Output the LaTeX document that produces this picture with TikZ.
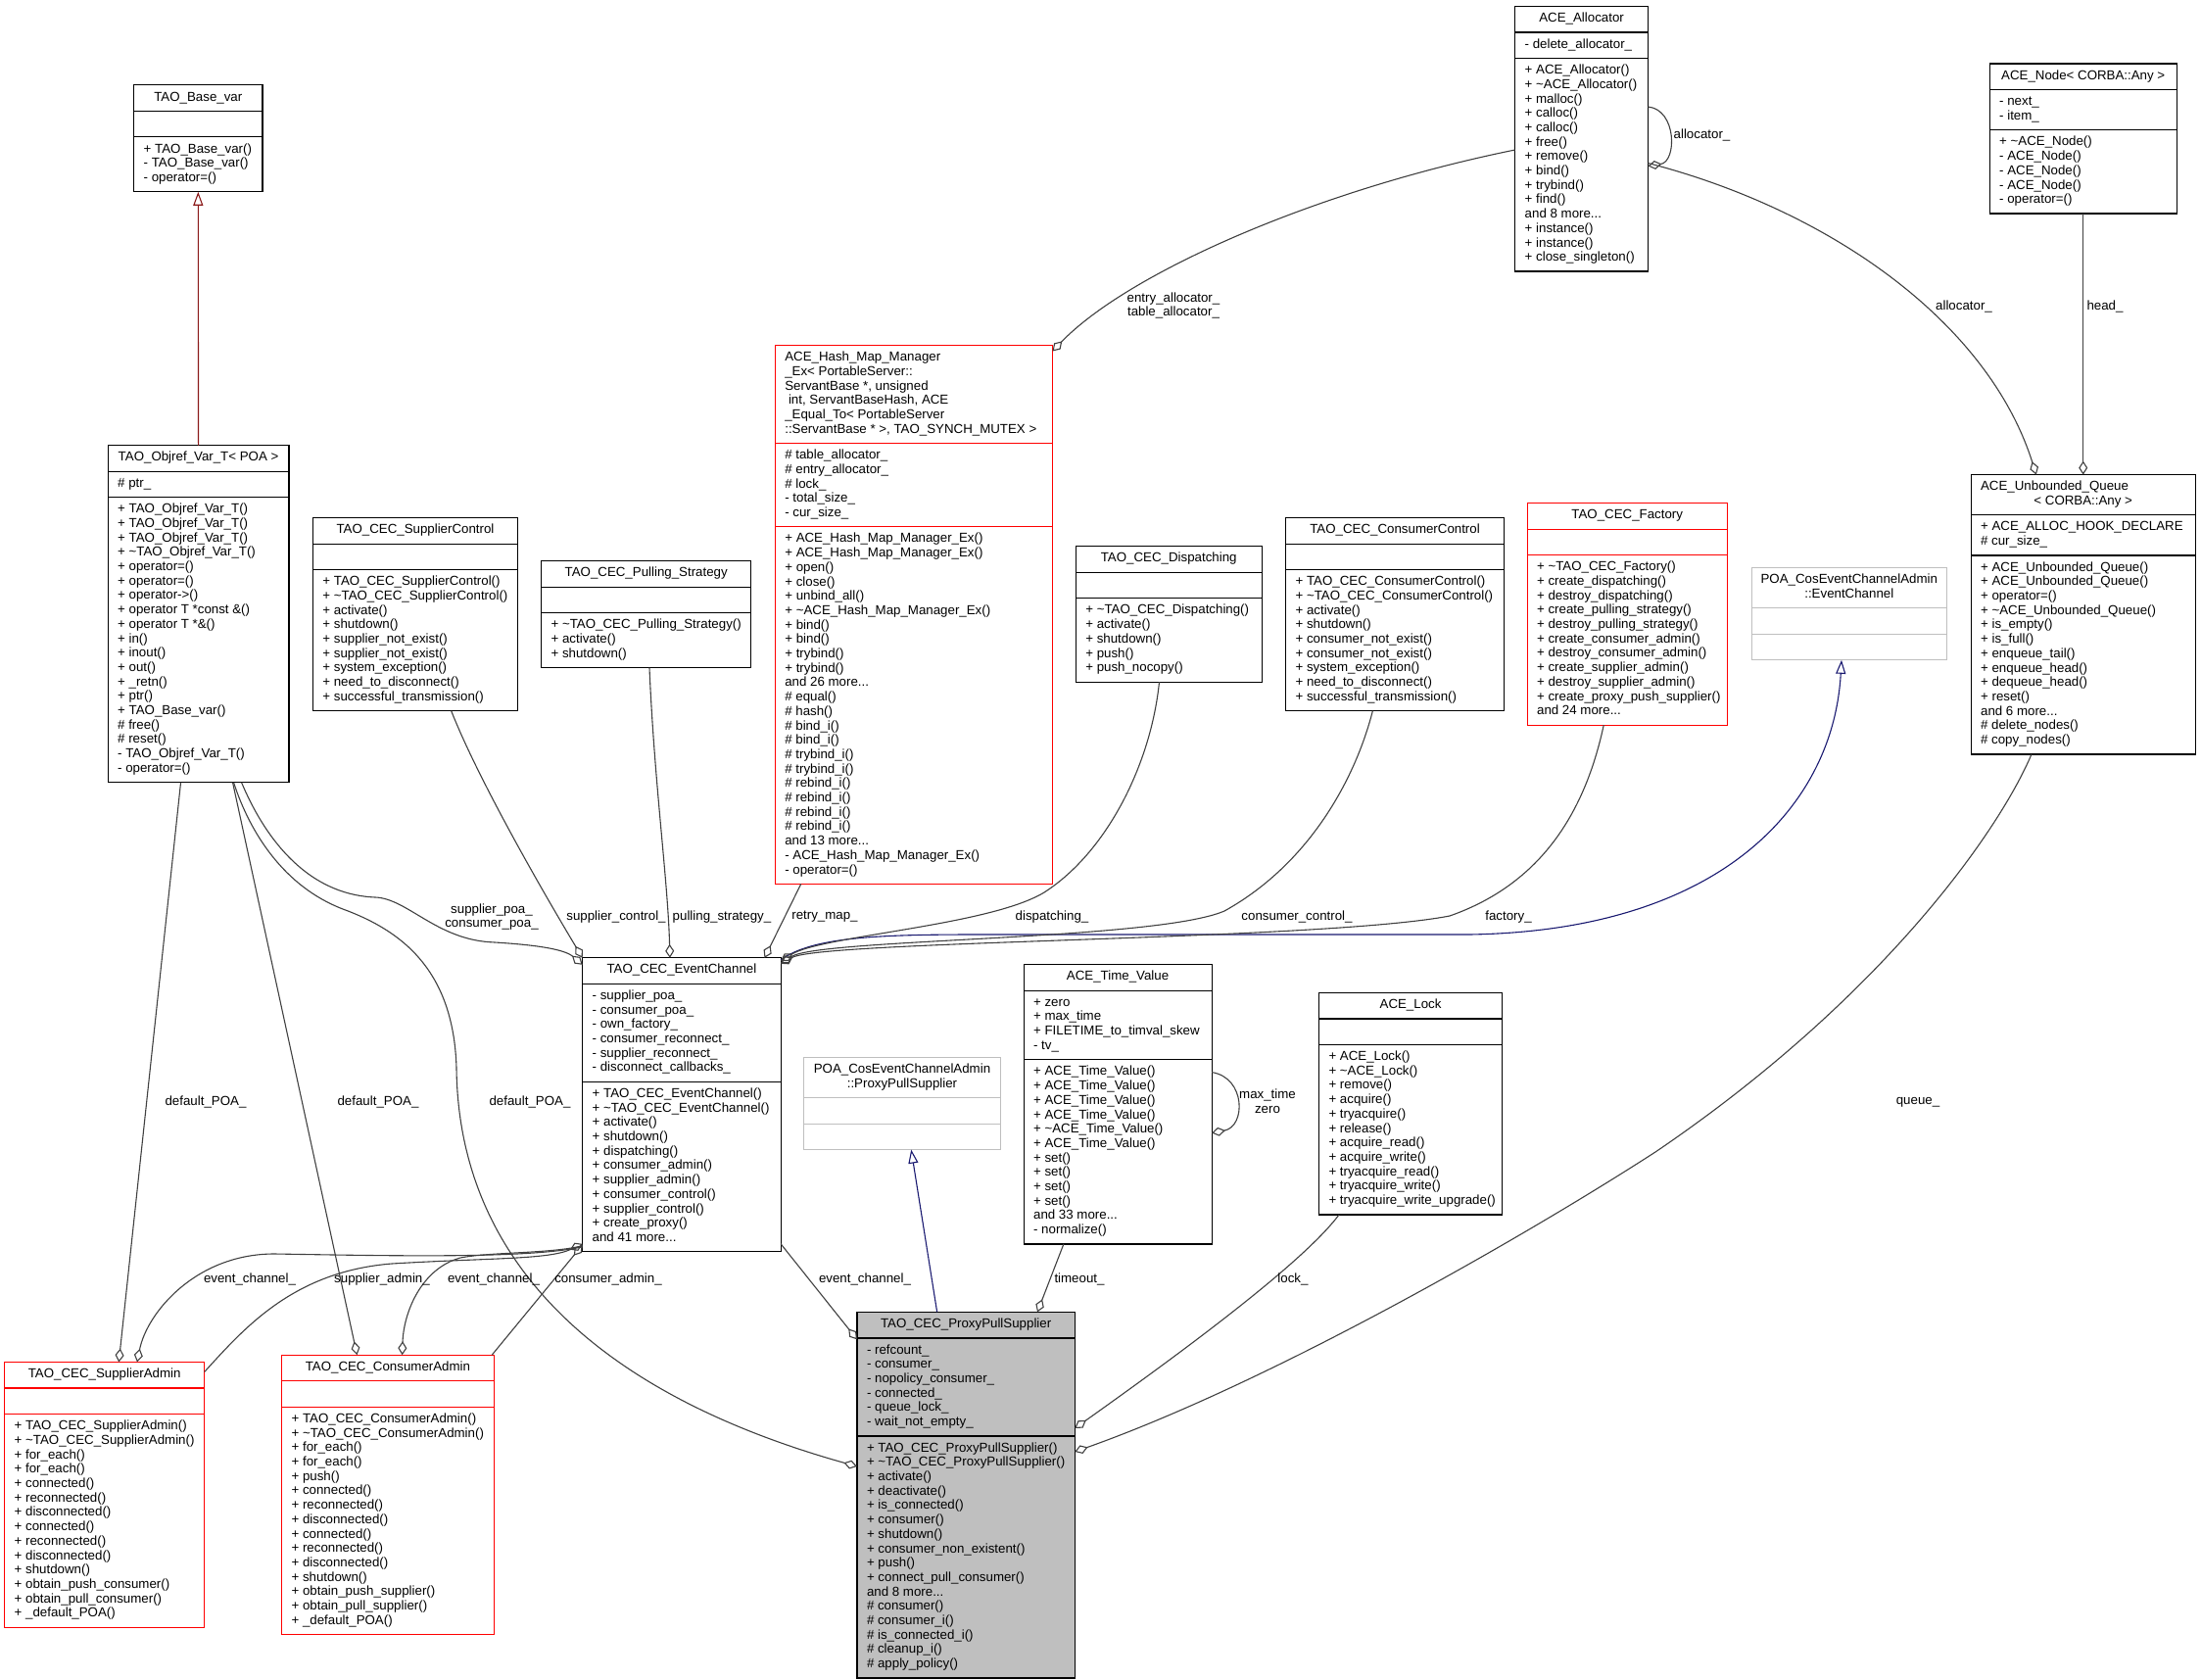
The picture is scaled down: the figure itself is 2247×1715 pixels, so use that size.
\documentclass[tikz,border=0pt]{standalone}
\usepackage{fontspec}
\setmainfont{Liberation Sans}
\usetikzlibrary{arrows.meta,shapes.multipart}

\definecolor{edgegrey}{HTML}{404040}
\definecolor{inhblue}{HTML}{191970}
\definecolor{privred}{HTML}{8B1A1A}
\definecolor{grey75}{HTML}{BFBFBF}

\newcommand\boxw{100pt}
\newcommand\mtitle[1]{\makebox[\boxw][c]{\begin{tabular}{@{}c@{}}#1\end{tabular}}}
\newcommand\mlist[1]{\makebox[\boxw][l]{\begin{tabular}{@{}l@{}}\strut#1\end{tabular}}}
\newcommand\tld{\textasciitilde}

\tikzset{
  cls/.style={draw=black, line width=1.2pt, rectangle split, rectangle split parts=3,
    inner xsep=10pt, inner ysep=5.3pt, outer sep=0pt, anchor=north west,
    font=\fontsize{13.3}{14.7}\selectfont},
  redcls/.style={cls, draw=red},
  poacls/.style={cls, draw=grey75},
  maincls/.style={cls, fill=grey75},
  boxw/.code={\def\boxw{#1}},
  mem/.style={draw=edgegrey, line width=1.1pt, -{Diamond[open,length=14pt,width=9pt]}},
  pubinh/.style={draw=inhblue, line width=1.1pt, -{Triangle[open,length=14pt,width=10pt]}},
  privinh/.style={draw=privred, line width=1.1pt, -{Triangle[open,length=14pt,width=10pt]}},
  lbl/.style={inner sep=0pt, align=center, font=\fontsize{13.3}{14.7}\selectfont}
}

\begin{document}
\begin{tikzpicture}[x=1pt,y=-1pt]
\useasboundingbox (0,0) rectangle (2247,1715);

%clases de arriba a la izquierda
\node[cls, boxw=111.2pt] (basevar) at (136.7,86.9) {\mtitle{TAO\_Base\_var}\nodepart{second}\mlist{}\nodepart{third}\mlist{+ TAO\_Base\_var()\\- TAO\_Base\_var()\\- operator=()}};
\node[cls, boxw=164.7pt] (objref) at (110.2,454.6) {\mtitle{TAO\_Objref\_Var\_T< POA >}\nodepart{second}\mlist{\# ptr\_}\nodepart{third}\mlist{+ TAO\_Objref\_Var\_T()\\+ TAO\_Objref\_Var\_T()\\+ TAO\_Objref\_Var\_T()\\+ \tld TAO\_Objref\_Var\_T()\\+ operator=()\\+ operator=()\\+ operator->()\\+ operator T *const \&()\\+ operator T *\&()\\+ in()\\+ inout()\\+ out()\\+ \_retn()\\+ ptr()\\+ TAO\_Base\_var()\\\# free()\\\# reset()\\- TAO\_Objref\_Var\_T()\\- operator=()}};
\node[cls, boxw=189.2pt] (supctl) at (319.4,528.6) {\mtitle{TAO\_CEC\_SupplierControl}\nodepart{second}\mlist{}\nodepart{third}\mlist{+ TAO\_CEC\_SupplierControl()\\+ \tld TAO\_CEC\_SupplierControl()\\+ activate()\\+ shutdown()\\+ supplier\_not\_exist()\\+ supplier\_not\_exist()\\+ system\_exception()\\+ need\_to\_disconnect()\\+ successful\_transmission()}};
\node[cls, boxw=194.2pt] (pullstr) at (552.6,572.8) {\mtitle{TAO\_CEC\_Pulling\_Strategy}\nodepart{second}\mlist{}\nodepart{third}\mlist{+ \tld TAO\_CEC\_Pulling\_Strategy()\\+ activate()\\+ shutdown()}};

%clases de arriba en el centro
\node[redcls, boxw=263.2pt] (hashmap) at (791.3,352.5) {\mlist{ACE\_Hash\_Map\_Manager\\\_Ex< PortableServer::\\ServantBase *, unsigned\\\ int, ServantBaseHash, ACE\\\_Equal\_To< PortableServer\\::ServantBase * >, TAO\_SYNCH\_MUTEX >}\nodepart{second}\mlist{\# table\_allocator\_\\\# entry\_allocator\_\\\# lock\_\\- total\_size\_\\- cur\_size\_}\nodepart{third}\mlist{+ ACE\_Hash\_Map\_Manager\_Ex()\\+ ACE\_Hash\_Map\_Manager\_Ex()\\+ open()\\+ close()\\+ unbind\_all()\\+ \tld ACE\_Hash\_Map\_Manager\_Ex()\\+ bind()\\+ bind()\\+ trybind()\\+ trybind()\\and 26 more...\\\# equal()\\\# hash()\\\# bind\_i()\\\# bind\_i()\\\# trybind\_i()\\\# trybind\_i()\\\# rebind\_i()\\\# rebind\_i()\\\# rebind\_i()\\\# rebind\_i()\\and 13 more...\\- ACE\_Hash\_Map\_Manager\_Ex()\\- operator=()}};
\node[cls, boxw=169.8pt] (disp) at (1098.3,557.8) {\mtitle{TAO\_CEC\_Dispatching}\nodepart{second}\mlist{}\nodepart{third}\mlist{+ \tld TAO\_CEC\_Dispatching()\\+ activate()\\+ shutdown()\\+ push()\\+ push\_nocopy()}};
\node[cls, boxw=202.9pt] (conctl) at (1312.6,528.6) {\mtitle{TAO\_CEC\_ConsumerControl}\nodepart{second}\mlist{}\nodepart{third}\mlist{+ TAO\_CEC\_ConsumerControl()\\+ \tld TAO\_CEC\_ConsumerControl()\\+ activate()\\+ shutdown()\\+ consumer\_not\_exist()\\+ consumer\_not\_exist()\\+ system\_exception()\\+ need\_to\_disconnect()\\+ successful\_transmission()}};
\node[redcls, boxw=184.3pt] (factory) at (1559.1,513.6) {\mtitle{TAO\_CEC\_Factory}\nodepart{second}\mlist{}\nodepart{third}\mlist{+ \tld TAO\_CEC\_Factory()\\+ create\_dispatching()\\+ destroy\_dispatching()\\+ create\_pulling\_strategy()\\+ destroy\_pulling\_strategy()\\+ create\_consumer\_admin()\\+ destroy\_consumer\_admin()\\+ create\_supplier\_admin()\\+ destroy\_supplier\_admin()\\+ create\_proxy\_push\_supplier()\\and 24 more...}};
\node[poacls, boxw=179.2pt] (poaec) at (1788.2,579.6) {\mtitle{POA\_CosEventChannelAdmin\\::EventChannel}\nodepart{second}\mlist{}\nodepart{third}\mlist{}};

%clases de arriba a la derecha
\node[cls, boxw=115.8pt] (alloc) at (1546.7,6.5) {\mtitle{ACE\_Allocator}\nodepart{second}\mlist{- delete\_allocator\_}\nodepart{third}\mlist{+ ACE\_Allocator()\\+ \tld ACE\_Allocator()\\+ malloc()\\+ calloc()\\+ calloc()\\+ free()\\+ remove()\\+ bind()\\+ trybind()\\+ find()\\and 8 more...\\+ instance()\\+ instance()\\+ close\_singleton()}};
\node[cls, boxw=171pt] (acenode) at (2031.2,65.1) {\mtitle{ACE\_Node< CORBA::Any >}\nodepart{second}\mlist{- next\_\\- item\_}\nodepart{third}\mlist{+ \tld ACE\_Node()\\- ACE\_Node()\\- ACE\_Node()\\- ACE\_Node()\\- operator=()}};
\node[cls, boxw=209.2pt] (queue) at (2012.1,484.6) {\mtitle{\makebox[\boxw][l]{ACE\_Unbounded\_Queue}\\< CORBA::Any >}\nodepart{second}\mlist{+ ACE\_ALLOC\_HOOK\_DECLARE\\\# cur\_size\_}\nodepart{third}\mlist{+ ACE\_Unbounded\_Queue()\\+ ACE\_Unbounded\_Queue()\\+ operator=()\\+ \tld ACE\_Unbounded\_Queue()\\+ is\_empty()\\+ is\_full()\\+ enqueue\_tail()\\+ enqueue\_head()\\+ dequeue\_head()\\+ reset()\\and 6 more...\\\# delete\_nodes()\\\# copy\_nodes()}};

%clases de abajo
\node[cls, boxw=182.4pt] (ec) at (594.7,977.8) {\mtitle{TAO\_CEC\_EventChannel}\nodepart{second}\mlist{- supplier\_poa\_\\- consumer\_poa\_\\- own\_factory\_\\- consumer\_reconnect\_\\- supplier\_reconnect\_\\- disconnect\_callbacks\_}\nodepart{third}\mlist{+ TAO\_CEC\_EventChannel()\\+ \tld TAO\_CEC\_EventChannel()\\+ activate()\\+ shutdown()\\+ dispatching()\\+ consumer\_admin()\\+ supplier\_admin()\\+ consumer\_control()\\+ supplier\_control()\\+ create\_proxy()\\and 41 more...}};
\node[redcls, boxw=184pt] (supadm) at (4.7,1390.5) {\mtitle{TAO\_CEC\_SupplierAdmin}\nodepart{second}\mlist{}\nodepart{third}\mlist{+ TAO\_CEC\_SupplierAdmin()\\+ \tld TAO\_CEC\_SupplierAdmin()\\+ for\_each()\\+ for\_each()\\+ connected()\\+ reconnected()\\+ disconnected()\\+ connected()\\+ reconnected()\\+ disconnected()\\+ shutdown()\\+ obtain\_push\_consumer()\\+ obtain\_pull\_consumer()\\+ \_default\_POA()}};
\node[redcls, boxw=196.6pt] (conadm) at (287.6,1383.2) {\mtitle{TAO\_CEC\_ConsumerAdmin}\nodepart{second}\mlist{}\nodepart{third}\mlist{+ TAO\_CEC\_ConsumerAdmin()\\+ \tld TAO\_CEC\_ConsumerAdmin()\\+ for\_each()\\+ for\_each()\\+ push()\\+ connected()\\+ reconnected()\\+ disconnected()\\+ connected()\\+ reconnected()\\+ disconnected()\\+ shutdown()\\+ obtain\_push\_supplier()\\+ obtain\_pull\_supplier()\\+ \_default\_POA()}};
\node[poacls, boxw=180.4pt] (poapps) at (820.8,1079.4) {\mtitle{POA\_CosEventChannelAdmin\\::ProxyPullSupplier}\nodepart{second}\mlist{}\nodepart{third}\mlist{}};
\node[cls, boxw=172pt] (timeval) at (1045.1,984.6) {\mtitle{ACE\_Time\_Value}\nodepart{second}\mlist{+ zero\\+ max\_time\\+ FILETIME\_to\_timval\_skew\\- tv\_}\nodepart{third}\mlist{+ ACE\_Time\_Value()\\+ ACE\_Time\_Value()\\+ ACE\_Time\_Value()\\+ ACE\_Time\_Value()\\+ \tld ACE\_Time\_Value()\\+ ACE\_Time\_Value()\\+ set()\\+ set()\\+ set()\\+ set()\\and 33 more...\\- normalize()}};
\node[cls, boxw=167.1pt] (acelock) at (1346.5,1013.4) {\mtitle{ACE\_Lock}\nodepart{second}\mlist{}\nodepart{third}\mlist{+ ACE\_Lock()\\+ \tld ACE\_Lock()\\+ remove()\\+ acquire()\\+ tryacquire()\\+ release()\\+ acquire\_read()\\+ acquire\_write()\\+ tryacquire\_read()\\+ tryacquire\_write()\\+ tryacquire\_write\_upgrade()}};
\node[maincls, boxw=202.3pt] (pps) at (875,1339.4) {\mtitle{TAO\_CEC\_ProxyPullSupplier}\nodepart{second}\mlist{- refcount\_\\- consumer\_\\- nopolicy\_consumer\_\\- connected\_\\- queue\_lock\_\\- wait\_not\_empty\_}\nodepart{third}\mlist{+ TAO\_CEC\_ProxyPullSupplier()\\+ \tld TAO\_CEC\_ProxyPullSupplier()\\+ activate()\\+ deactivate()\\+ is\_connected()\\+ consumer()\\+ shutdown()\\+ consumer\_non\_existent()\\+ push()\\+ connect\_pull\_consumer()\\and 8 more...\\\# consumer()\\\# consumer\_i()\\\# is\_connected\_i()\\\# cleanup\_i()\\\# apply\_policy()}};

%herencia
\draw[privinh] (objref.north) -- (basevar.south);
\draw[pubinh] ([yshift=-2pt]ec.north east) .. controls (830,956) and (900,954) .. (1000,954) -- (1500,954) .. controls (1760,950) and (1872,820) .. ([xshift=-7.8pt]poaec.south);
\draw[pubinh] ([xshift=-29.5pt]pps.north) -- ([xshift=9.2pt]poapps.south);

%miembros hacia TAO_CEC_EventChannel
\draw[mem] ([xshift=44pt]objref.south) .. controls (268,850) and (310,913) .. (383,916) .. controls (415,917) and (445,958) .. (500,961.7) .. controls (540,964) and (575,968) .. ([yshift=-7pt]ec.north west);
\draw[mem] ([xshift=36.7pt]supctl.south) .. controls (490,800) and (560,920) .. (ec.north west);
\draw[mem] ([xshift=3.3pt]pullstr.south) .. controls (668,800) and (682,900) .. ([xshift=-12pt]ec.north);
\draw[mem] ([xshift=-115.2pt]hashmap.south) -- ([xshift=-16.6pt]ec.north east);
\draw[mem] ([xshift=-9.7pt]disp.south) .. controls (1175,780) and (1130,870) .. (1066,911) .. controls (1010,945) and (840,955) .. ([yshift=-3pt]ec.north east);
\draw[mem] ([xshift=-22.7pt]conctl.south) .. controls (1385,790) and (1340,880) .. (1250,930) .. controls (1180,960) and (840,958) .. ([yshift=-5pt]ec.north east);
\draw[mem] ([xshift=-24pt]factory.south) .. controls (1620,820) and (1580,900) .. (1480,935) .. controls (1350,960) and (840,960) .. ([yshift=-6pt]ec.north east);
\draw[mem] ([yshift=-10pt]supadm.north east) .. controls (250,1355) and (300,1298) .. (400,1290) .. controls (500,1284) and (560,1286) .. ([yshift=8pt]ec.south west);
\draw[mem] ([xshift=-2pt]conadm.north east) -- ([yshift=7pt]ec.south west);

%miembros default_POA_
\draw[mem] ([xshift=-18pt]objref.south) -- ([xshift=14.6pt]supadm.north);
\draw[mem] ([xshift=35pt]objref.south) -- ([xshift=-31.4pt]conadm.north);
\draw[mem] ([xshift=36pt]objref.south) .. controls (255,850) and (290,905) .. (350,928) .. controls (410,950) and (463,990) .. (466,1090) .. controls (468,1280) and (600,1420) .. ([yshift=-157.6pt]pps.north west);

%miembros event_channel_
\draw[mem] ([yshift=5pt]ec.south west) .. controls (540,1285) and (400,1282) .. (280,1280) .. controls (200,1280) and (150,1340) .. ([xshift=33.3pt]supadm.north);
\draw[mem] ([yshift=6pt]ec.south west) .. controls (560,1280) and (500,1278) .. (470,1284) .. controls (430,1295) and (412,1340) .. ([xshift=14.7pt]conadm.north);
\draw[mem] ([yshift=8pt]ec.south east) -- ([yshift=-28pt]pps.north west);

%miembros hacia TAO_CEC_ProxyPullSupplier
\draw[mem] ([xshift=-55.2pt]timeval.south) -- ([xshift=72.9pt]pps.north);
\draw[mem] ([xshift=-73pt]acelock.south) .. controls (1330,1290) and (1200,1385) .. ([yshift=-118.6pt]pps.north east);
\draw[mem] ([xshift=-52.7pt]queue.south) .. controls (2040,850) and (1920,1020) .. (1690,1176) .. controls (1560,1260) and (1300,1410) .. ([yshift=-142.6pt]pps.north east);

%miembros de las clases ACE
\draw[mem] ([yshift=-110pt]timeval.north east) .. controls (1272,1100) and (1272,1150) .. ([yshift=-172pt]timeval.north east);
\draw[mem] ([yshift=-102.5pt]alloc.north east) .. controls (1712,112) and (1712,165) .. ([yshift=-163pt]alloc.north east);
\draw[mem] ([yshift=-146.5pt]alloc.north west) .. controls (1340,195) and (1150,280) .. ([yshift=-6pt]hashmap.north east);
\draw[mem] ([yshift=-160pt]alloc.north east) .. controls (1870,215) and (2030,330) .. ([xshift=-47.9pt]queue.north);
\draw[mem] (acenode.south) -- (queue.north);

%etiquetas de los miembros
\node[lbl] (lpoa) at (502,936) {supplier\_poa\_\\consumer\_poa\_};
\node[lbl] (lsupctl) at (629,936) {supplier\_control\_};
\node[lbl] (lpull) at (737,936) {pulling\_strategy\_};
\node[lbl] (lretry) at (842,936) {retry\_map\_};
\node[lbl] (ldisp) at (1074,936) {dispatching\_};
\node[lbl] (lconctl) at (1324,936) {consumer\_control\_};
\node[lbl] (lfact) at (1540,936) {factory\_};
\node[lbl] (ldefsa) at (210,1125) {default\_POA\_};
\node[lbl] (ldefca) at (386,1125) {default\_POA\_};
\node[lbl] (ldefpps) at (541,1125) {default\_POA\_};
\node[lbl] (lecsa) at (255,1306) {event\_channel\_};
\node[lbl] (lsupadm) at (390,1306) {supplier\_admin\_};
\node[lbl] (lecca) at (504,1306) {event\_channel\_};
\node[lbl] (lconadm) at (621,1306) {consumer\_admin\_};
\node[lbl] (lecpps) at (883,1306) {event\_channel\_};
\node[lbl] (ltimeout) at (1102,1306) {timeout\_};
\node[lbl] (llock) at (1320,1306) {lock\_};
\node[lbl] (lqueue) at (1958,1125) {queue\_};
\node[lbl] (lmaxzero) at (1294,1124) {max\_time\\zero};
\node[lbl] (lallocself) at (1737.5,138.5) {allocator\_};
\node[lbl] (lentry) at (1198,312) {entry\_allocator\_\\table\_allocator\_};
\node[lbl] (lalloc) at (2005,312.7) {allocator\_};
\node[lbl] (lhead) at (2149,312.7) {head\_};
\end{tikzpicture}
\end{document}
